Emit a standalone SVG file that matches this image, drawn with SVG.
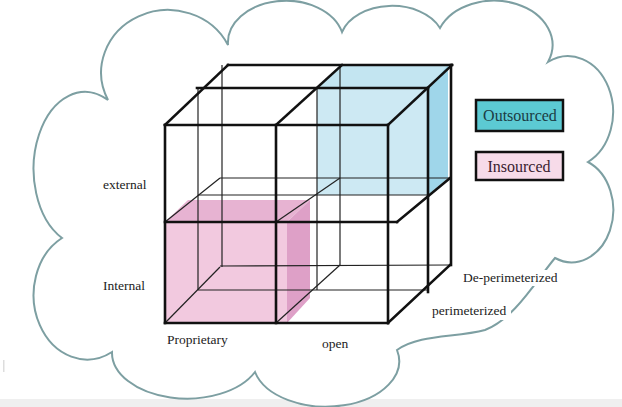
<svg xmlns="http://www.w3.org/2000/svg" width="622" height="407" viewBox="0 0 622 407">
<style>
.lbl{font-family:"Liberation Serif","Times New Roman",serif;font-size:13.5px;fill:#222}
.leg{font-family:"Liberation Serif","Times New Roman",serif;font-size:16px;text-anchor:middle}
.thick{stroke:#111;stroke-width:2.6;fill:none;stroke-linecap:square}
.thin{stroke:#222;stroke-width:1.2;fill:none}
.cloud{fill:#fff;stroke:#7d9fa2;stroke-width:2}
</style>
<rect x="0" y="0" width="622" height="407" fill="#fff"/>
<rect x="0" y="399" width="622" height="8" fill="#efefef"/>
<rect x="3" y="360" width="1.5" height="12" fill="#ddd"/>
<g id="cloud">
<path class="cloud" d="M108,100 A62,58 0 0 1 228,45 A58,42 0 0 1 342,32 A52,36 0 0 1 440,28 A58,44 0 0 1 548,62 A42,52 0 0 1 588,162 A40,50 0 0 1 555,258 C535,282 515,318 485,330 C455,338 420,334 397,350 A72,45 0 0 1 255,372 A75,46 0 0 1 112,352 A48,58 0 0 1 62,238 A48,72 0 0 1 108,100 Z"/>
</g>
<g id="insourced-cube">
<rect x="165" y="222" width="122" height="101" fill="#f2c9df"/>
<polygon points="165,222 188,200 310,200 287,222" fill="#e7b3d2"/>
<polygon points="287,222 310,200 310,298 287,323" fill="#dea0c7"/>
</g>
<g id="outsourced-cube">
<rect x="317" y="88" width="111" height="107" fill="#cde9f3"/>
<polygon points="317,88 340,65 450,65 428,88" fill="#c3e5f1"/>
<polygon points="428,88 448,65 448,178 428,195" fill="#9fd6ea"/>
</g>
<g id="connectors">
<line class="thin" x1="198" y1="88" x2="198" y2="290"/>
<line class="thin" x1="317" y1="88" x2="317" y2="290"/>
<line class="thin" x1="222" y1="65" x2="222" y2="267"/>
<line class="thin" x1="340" y1="65" x2="340" y2="265"/>
<line class="thin" x1="198" y1="195" x2="427" y2="195"/>
<line class="thin" x1="198" y1="290" x2="428" y2="290"/>
<line class="thin" x1="220" y1="178" x2="450" y2="178"/>
<line class="thin" x1="220" y1="266" x2="450" y2="265"/>
<line class="thin" x1="165" y1="222" x2="220" y2="178"/>
<line class="thin" x1="165" y1="323" x2="220" y2="267"/>
<line class="thin" x1="276" y1="222" x2="340" y2="178"/>
<line class="thin" x1="276" y1="323" x2="340" y2="265"/>
<line class="thick" x1="228" y1="65" x2="452" y2="65"/>
<line class="thick" x1="197" y1="88" x2="428" y2="88"/>
<line class="thick" x1="165" y1="125" x2="388" y2="125"/>
<line class="thick" x1="165" y1="222" x2="397" y2="222"/>
<line class="thick" x1="165" y1="323" x2="388" y2="323"/>
<line class="thick" x1="165" y1="125" x2="228" y2="65"/>
<line class="thick" x1="276" y1="125" x2="342" y2="65"/>
<line class="thick" x1="388" y1="125" x2="452" y2="65"/>
<line class="thick" x1="397" y1="222" x2="450" y2="178"/>
<line class="thick" x1="388" y1="323" x2="450" y2="265"/>
<line class="thick" x1="165" y1="125" x2="165" y2="323"/>
<line class="thick" x1="276" y1="125" x2="276" y2="323"/>
<line class="thick" x1="388" y1="125" x2="388" y2="323"/>
<line class="thick" x1="428" y1="88" x2="428" y2="292"/>
<line class="thick" x1="451" y1="65" x2="451" y2="265"/>
</g>
<g id="labels">
<text class="lbl" x="103" y="189">external</text>
<text class="lbl" x="103" y="290">Internal</text>
<text class="lbl" x="167" y="344">Proprietary</text>
<text class="lbl" x="322" y="348">open</text>
<rect x="460" y="270" width="104" height="16" fill="#fff"/>
<text class="lbl" x="463" y="282">De-perimeterized</text>
<rect x="429" y="304" width="82" height="16" fill="#fff"/>
<text class="lbl" x="432" y="315">perimeterized</text>
</g>
<g id="legend-outsourced">
<rect x="476" y="100" width="87" height="31" fill="#5ccad3" stroke="#111" stroke-width="2.5"/>
<text class="leg" x="520" y="121" fill="#1b3c44">Outsourced</text>
</g>
<g id="legend-insourced">
<rect x="476" y="152" width="87" height="28" fill="#f7dbe9" stroke="#111" stroke-width="2.5"/>
<text class="leg" x="519" y="172" fill="#3a2230">Insourced</text>
</g>
</svg>
